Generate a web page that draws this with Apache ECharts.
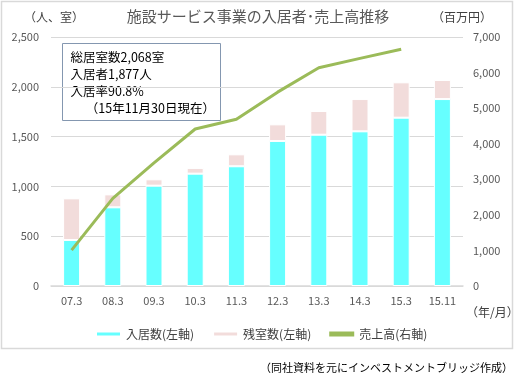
<!DOCTYPE html>
<html>
<head>
<meta charset="utf-8">
<script src="https://cdn.jsdelivr.net/npm/echarts@6/dist/echarts.min.js"></script>
<style>
  html, body { margin: 0; padding: 0; background: #fff; }
  #chart { width: 516px; height: 377px; }
</style>
</head>
<body>
<div id="chart"></div>
<script>
// 年/月
var categories = ["07.3", "08.3", "09.3", "10.3", "11.3", "12.3", "13.3", "14.3", "15.3", "15.11"];
// 入居数（左軸）
var residents = [462, 790, 1007, 1128, 1202, 1456, 1519, 1553, 1690, 1877];
// 残室数（左軸）
var vacantRooms = [418, 130, 64, 57, 120, 167, 238, 324, 355, 191];
// 売上高（右軸, 百万円）
var sales = [1010, 2465, 3460, 4413, 4686, 5450, 6137, 6400, 6654, "-"];

var leftTicks = { min: 0, max: 2500, interval: 500 };
var rightTicks = { min: 0, max: 7000, interval: 1000 };

var FONT = "Noto Sans CJK JP";
var chart = echarts.init(document.getElementById("chart"));

function comma(v) {
  return String(v).replace(/\B(?=(\d{3})+(?!\d))/g, ",");
}

var option = {
  animation: false,
  textStyle: { fontFamily: FONT },
  grid: { left: 51, right: 53, top: 37, bottom: 91 },
  legend: {
    left: 90,
    top: 323,
    itemWidth: 25,
    itemHeight: 5,
    itemGap: 18,
    textStyle: { fontSize: 12, color: "#404040", fontFamily: FONT },
    data: [
      { name: "入居数(左軸)", icon: "rect" },
      { name: "残室数(左軸)", icon: "rect" },
      { name: "売上高(右軸)", icon: "rect" },
    ],
  },
  xAxis: {
    type: "category",
    data: categories,
    axisLine: { lineStyle: { color: "#d9d9d9", width: 1.5 } },
    axisTick: { show: false },
    axisLabel: { color: "#595959", fontSize: 11, margin: 9 },
  },
  yAxis: [
    {
      type: "value",
      min: leftTicks.min,
      max: leftTicks.max,
      interval: leftTicks.interval,
      axisLine: { show: false },
      axisTick: { show: false },
      axisLabel: { color: "#595959", fontSize: 11, margin: 12, formatter: comma },
      splitLine: { lineStyle: { color: "#d9d9d9", width: 1 } },
    },
    {
      type: "value",
      min: rightTicks.min,
      max: rightTicks.max,
      interval: rightTicks.interval,
      axisLine: { show: false },
      axisTick: { show: false },
      axisLabel: { color: "#595959", fontSize: 11, margin: 10, formatter: comma },
      splitLine: { show: false },
    },
  ],
  series: [
    {
      name: "入居数(左軸)",
      type: "bar",
      stack: "rooms",
      barWidth: 17,
      data: residents,
      itemStyle: { color: "#66ffff", borderColor: "#ffffff", borderWidth: 1 },
    },
    {
      name: "残室数(左軸)",
      type: "bar",
      stack: "rooms",
      barWidth: 17,
      data: vacantRooms,
      itemStyle: { color: "#f2dcdb", borderColor: "#ffffff", borderWidth: 1 },
    },
    {
      name: "売上高(右軸)",
      type: "line",
      yAxisIndex: 1,
      data: sales,
      showSymbol: false,
      symbol: "none",
      z: 5,
      itemStyle: { color: "#9bbb59" },
      lineStyle: { color: "#9bbb59", width: 3 },
    },
  ],
  graphic: [
    // 外枠
    {
      type: "rect",
      shape: { x: 1.5, y: 1.5, width: 511, height: 347 },
      style: { fill: "none", stroke: "#d9d9d9", lineWidth: 1.5 },
      z: -10,
    },
    {
      type: "text",
      left: "center",
      top: 9,
      style: { text: "施設サービス事業の入居者･売上高推移", fontSize: 15, fill: "#595959", fontFamily: FONT },
    },
    {
      type: "text",
      left: 24,
      top: 11,
      style: { text: "（人、室）", fontSize: 12, fill: "#404040", fontFamily: FONT },
    },
    {
      type: "text",
      left: 432,
      top: 11,
      style: { text: "（百万円）", fontSize: 12, fill: "#404040", fontFamily: FONT },
    },
    {
      type: "text",
      left: 466,
      top: 306,
      style: { text: "（年/月）", fontSize: 12, fill: "#404040", fontFamily: FONT },
    },
    {
      type: "text",
      right: 3,
      top: 362,
      style: { text: "（同社資料を元にインベストメントブリッジ作成）", fontSize: 11, fill: "#000", fontFamily: FONT },
    },
    // 注記ボックス
    {
      type: "group",
      left: 62,
      top: 43,
      z: 10,
      children: [
        {
          type: "rect",
          shape: { x: 0, y: 0, width: 158, height: 77 },
          style: { fill: "#ffffff", stroke: "#8497b0", lineWidth: 1 },
        },
        {
          type: "text",
          x: 8,
          y: 5,
          style: {
            text: "総居室数2,068室\n入居者1,877人\n入居率90.8%\n　 （15年11月30日現在）",
            fontSize: 12.5,
            lineHeight: 17,
            fill: "#000",
            fontFamily: FONT,
          },
        },
      ],
    },
  ],
};

chart.setOption(option);
</script>
</body>
</html>
